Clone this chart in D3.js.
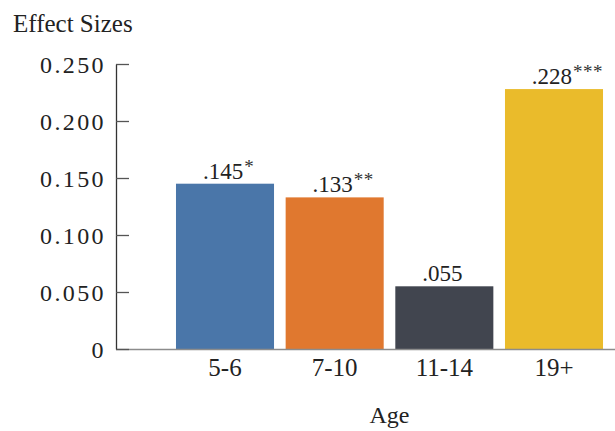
<!DOCTYPE html>
<html>
<head>
<meta charset="utf-8">
<script src="https://cdn.jsdelivr.net/npm/d3@7"></script>
<style>
  html, body { margin: 0; padding: 0; background: #ffffff; }
  svg { display: block; }
</style>
</head>
<body>
<svg id="chart" width="615" height="431"></svg>
<script>
const categories = ["5-6", "7-10", "11-14", "19+"];
const values = [0.145, 0.133, 0.055, 0.228];
const valueLabels = [".145", ".133", ".055", ".228"];
const significance = ["*", "**", "", "***"];
const barColors = ["#4a76a9", "#e0782f", "#41454f", "#eabb2b"];
const yTickValues = [0, 0.05, 0.10, 0.15, 0.20, 0.25];
const yTickLabels = ["0", "0.050", "0.100", "0.150", "0.200", "0.250"];
const yTitle = "Effect Sizes";
const xTitle = "Age";

const FONT = "'Liberation Serif', 'Times New Roman', serif";
const svg = d3.select("#chart");
const W = 615;
const axisX = 116;

const y = d3.scaleLinear().domain([0, 0.25]).range([349, 64]);
const x = d3.scaleBand().domain(categories).range([170.5, 608.5])
  .paddingInner(0.106).paddingOuter(0.05);

// bars
svg.append("g").selectAll("rect").data(categories).join("rect")
  .attr("x", d => x(d))
  .attr("y", (d, i) => y(values[i]))
  .attr("width", x.bandwidth())
  .attr("height", (d, i) => y(0) - y(values[i]))
  .attr("fill", (d, i) => barColors[i]);

// x axis baseline
svg.append("line")
  .attr("x1", axisX).attr("x2", W)
  .attr("y1", y(0) + 0.5).attr("y2", y(0) + 0.5)
  .attr("stroke", "#8c8c8c").attr("stroke-width", 1.6);

// y axis
const yAxis = d3.axisLeft(y)
  .tickValues(yTickValues)
  .tickFormat((d, i) => yTickLabels[i])
  .tickSizeInner(-13).tickSizeOuter(0).tickPadding(10);
const gy = svg.append("g").attr("transform", `translate(${axisX},0)`).call(yAxis);
gy.attr("font-family", null).attr("font-size", null);
gy.select(".domain").attr("stroke", "#333").attr("stroke-width", 1.3);
gy.selectAll(".tick line").attr("stroke", "#555").attr("stroke-width", 1.3);
gy.selectAll(".tick text")
  .style("font-family", FONT)
  .style("font-size", "24px").style("letter-spacing", "2.4px")
  .style("fill", "#222").attr("dy", "0.36em");

// x axis labels
const xAxis = d3.axisBottom(x).tickSize(0).tickPadding(9);
const gx = svg.append("g").attr("transform", `translate(0,${y(0)})`).call(xAxis);
gx.attr("font-family", null).attr("font-size", null);
gx.select(".domain").remove();
gx.selectAll(".tick text")
  .style("font-family", FONT)
  .style("font-size", "25px").style("fill", "#222");

// value labels
const lab = svg.append("g");
categories.forEach((c, i) => {
  const cx = x(c) + x.bandwidth() / 2 - 2;
  const by = y(values[i]) - 5;
  const t = lab.append("text")
    .attr("x", cx).attr("y", by)
    .attr("text-anchor", "middle")
    .style("font-family", FONT).style("font-size", "23px").style("fill", "#222")
    .text(valueLabels[i]);
  if (significance[i]) {
    const w = t.node().getComputedTextLength();
    lab.append("text")
      .attr("x", cx + w / 2 + 1).attr("y", by - 6)
      .style("font-family", FONT).style("font-size", "19px").style("fill", "#333")
      .style("letter-spacing", "0.5px")
      .text(significance[i]);
  }
});

// titles
svg.append("text").attr("x", 13).attr("y", 32)
  .style("font-family", FONT).style("font-size", "25px").style("fill", "#222")
  .text(yTitle);
svg.append("text").attr("x", (x.range()[0] + x.range()[1]) / 2).attr("y", 423)
  .attr("text-anchor", "middle")
  .style("font-family", FONT).style("font-size", "24px").style("fill", "#222")
  .text(xTitle);
</script>
</body>
</html>
